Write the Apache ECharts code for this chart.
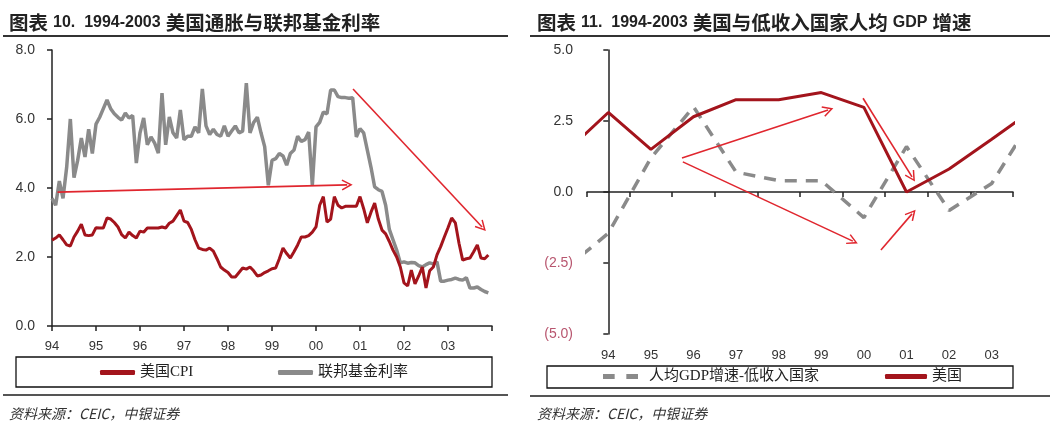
<!DOCTYPE html>
<html><head><meta charset="utf-8">
<script src="https://cdn.jsdelivr.net/npm/echarts@6/dist/echarts.min.js"></script>
<style>html,body{margin:0;padding:0;background:#fff}#c{width:1054px;height:424px}</style>
</head><body><div id="c"></div>
<script>
// ---------- data ----------
const monthTickLabels = ['94','95','96','97','98','99','00','01','02','03',''];
// US CPI yoy (%), monthly Jan 1994 .. Dec 2003
const cpi = [
 2.49,2.55,2.64,2.50,2.35,2.32,2.58,2.75,2.95,2.64,2.62,2.64,
 2.85,2.84,2.84,3.13,3.10,3.00,2.87,2.65,2.55,2.72,2.62,2.55,
 2.75,2.72,2.84,2.84,2.84,2.84,2.87,2.84,2.98,3.04,3.20,3.36,
 3.04,3.00,2.80,2.50,2.26,2.22,2.20,2.26,2.17,1.95,1.71,1.62,
 1.55,1.42,1.42,1.55,1.68,1.65,1.71,1.60,1.45,1.48,1.55,1.60,
 1.66,1.68,1.95,2.26,2.10,1.97,2.15,2.35,2.58,2.58,2.62,2.72,
 2.87,3.50,3.75,3.01,3.10,3.75,3.50,3.42,3.47,3.47,3.47,3.47,
 3.75,3.40,2.99,3.30,3.56,3.10,2.78,2.67,2.45,2.20,2.00,1.71,
 1.25,1.16,1.62,1.22,1.45,1.71,1.10,1.60,1.71,2.06,2.30,2.58,
 2.85,3.13,2.99,2.40,1.91,1.95,1.97,2.15,2.35,1.97,1.95,2.06
];
// Fed funds rate (%), monthly Jan 1994 .. Dec 2003
const fedFunds = [
 3.70,3.50,4.20,3.70,4.60,6.00,4.30,4.80,5.45,4.90,5.70,5.00,
 5.85,6.05,6.30,6.55,6.30,6.15,6.05,5.97,6.17,6.03,6.10,4.72,
 5.60,6.03,5.25,5.48,5.30,5.01,6.75,5.25,6.06,5.60,5.45,6.26,
 5.40,5.50,5.50,5.77,5.60,6.87,5.80,5.55,5.70,5.55,5.50,5.80,
 5.50,5.65,5.80,5.60,5.65,7.04,5.60,5.90,6.05,5.60,5.20,4.08,
 4.80,4.85,5.00,4.93,4.66,5.00,5.10,5.50,5.35,5.40,5.62,4.08,
 5.77,5.90,6.20,6.15,6.84,6.84,6.65,6.62,6.62,6.60,6.62,5.48,
 5.72,5.60,5.10,4.60,4.03,3.95,3.90,3.50,2.80,2.50,2.20,1.83,
 1.86,1.82,1.84,1.83,1.75,1.71,1.78,1.83,1.80,1.86,1.30,1.30,
 1.33,1.35,1.39,1.35,1.33,1.40,1.10,1.10,1.13,1.06,1.00,0.96
];
const yearLabels = ['94','95','96','97','98','99','00','01','02','03'];
const gdpYears = [1993,1994,1995,1996,1997,1998,1999,2000,2001,2002,2003,2004];
const lowIncomeGdp = [-2.7,-1.45,1.2,3.0,0.7,0.4,0.4,-0.9,1.6,-0.65,0.3,2.7];
const usGdp = [1.4,2.8,1.5,2.65,3.25,3.25,3.5,2.98,0.0,0.81,1.86,2.93];

// annotation arrows: [[x1,y1],[x2,y2]] in data units
const leftArrows = [[[1.5,3.88],[80.5,4.09]], [[82.1,6.87],[117.3,2.87]]];
const rightArrows = [[[1.73,1.2],[5.16,2.89]], [[1.75,1.06],[5.74,-1.73]], [[5.98,3.3],[7.13,0.53]], [[6.4,-2.04],[7.13,-0.77]]];

// ---------- styles ----------
const RED = '#a3141c', GRAY = '#8a8a8a', ARROW = '#e0262e';
const SANS = "'Liberation Sans', Arial, sans-serif";
const CJK = "'Noto Sans CJK SC', sans-serif";
const SERIF = "'Liberation Serif', 'Noto Sans CJK SC', serif";
const arrowHead = 'path://M0,0 L6,11 L4.6,11.8 L0,3.4 L-4.6,11.8 L-6,11 Z';

function arrowLines(list){
  return {
    silent: true, animation: false,
    symbol: ['none', arrowHead], symbolSize: [11, 11],
    lineStyle: {color: ARROW, width: 1.6, type: 'solid'},
    label: {show: false},
    data: list.map(a => [{coord: a[0]}, {coord: a[1]}])
  };
}

const titleRich = {
  c: {fontFamily: CJK, fontWeight: 'bold', fontSize: 19.5, color: '#222'},
  n: {fontFamily: SANS, fontWeight: 'bold', fontSize: 16, color: '#222'}
};
const srcStyle = {fontFamily: CJK, fontStyle: 'italic', fontWeight: 'normal', fontSize: 14, color: '#333'};

const chart = echarts.init(document.getElementById('c'), null, {renderer: 'canvas'});
chart.setOption({
  animation: false,
  backgroundColor: '#fff',
  title: [
    {text: '{c|图表} {n|10.  1994-2003} {c|美国通胀与联邦基金利率}', left: 4, top: 8, textStyle: {rich: titleRich}},
    {text: '{c|图表} {n|11.  1994-2003} {c|美国与低收入国家人均} {n|GDP} {c|增速}', left: 532, top: 8, textStyle: {rich: titleRich}},
    {text: '资料来源：CEIC，中银证券', left: 4, top: 402, textStyle: srcStyle},
    {text: '资料来源：CEIC，中银证券', left: 532, top: 402, textStyle: srcStyle}
  ],
  graphic: [
    {type: 'line', shape: {x1: 3, y1: 36, x2: 508, y2: 36}, style: {stroke: '#333', lineWidth: 2}},
    {type: 'line', shape: {x1: 530, y1: 36, x2: 1050, y2: 36}, style: {stroke: '#333', lineWidth: 2}},
    {type: 'line', shape: {x1: 3, y1: 395, x2: 508, y2: 395}, style: {stroke: '#555', lineWidth: 2}},
    {type: 'line', shape: {x1: 530, y1: 396, x2: 1050, y2: 396}, style: {stroke: '#555', lineWidth: 2}},
    {type: 'rect', shape: {x: 16, y: 357, width: 476, height: 30}, style: {fill: 'none', stroke: '#111', lineWidth: 1.3}},
    {type: 'rect', shape: {x: 547, y: 366, width: 466, height: 22}, style: {fill: 'none', stroke: '#111', lineWidth: 1.3}}
  ],
  legend: [
    {data: [{name: '美国CPI', icon: 'roundRect'}], left: 100, top: 365, padding: 0, itemWidth: 35, itemHeight: 5,
     textStyle: {fontFamily: SERIF, fontSize: 15, color: '#222'}},
    {data: [{name: '联邦基金利率', icon: 'roundRect'}], left: 278, top: 365, padding: 0, itemWidth: 35, itemHeight: 5,
     textStyle: {fontFamily: SERIF, fontSize: 15, color: '#222'}},
    {data: [{name: '人均GDP增速-低收入国家', icon: 'path://M0,0H12V5H0Z M24,0H36V5H24Z'}], left: 603, top: 369, padding: 0, itemWidth: 35, itemHeight: 5,
     textStyle: {fontFamily: SERIF, fontSize: 15, color: '#222', padding: [0,0,0,6]}},
    {data: [{name: '美国', icon: 'roundRect'}], left: 885, top: 369, padding: 0, itemWidth: 42, itemHeight: 5,
     textStyle: {fontFamily: SERIF, fontSize: 15, color: '#222'}}
  ],
  grid: [
    {left: 52, right: 562, top: 50, bottom: 98},
    {left: 587, right: 41, top: 50, bottom: 90}
  ],
  xAxis: [
    {type: 'value', gridIndex: 0, min: 0, max: 120, interval: 12,
     axisLine: {lineStyle: {color: '#222', width: 1.5}},
     axisTick: {show: true, length: 5, lineStyle: {color: '#222', width: 1.5}},
     axisLabel: {margin: 14, fontFamily: SANS, fontSize: 13, color: '#333', formatter: v => monthTickLabels[Math.round(v/12)]},
     splitLine: {show: false}},
    {type: 'value', gridIndex: 1, min: -0.5, max: 9.5, interval: 1,
     axisLine: {onZero: true, lineStyle: {color: '#222', width: 1.5}},
     axisTick: {show: true, length: 5, lineStyle: {color: '#222', width: 1.5}},
     axisLabel: {show: false}, splitLine: {show: false}},
    {type: 'category', gridIndex: 1, position: 'bottom', data: yearLabels, boundaryGap: true,
     axisLine: {show: false, onZero: false}, axisTick: {show: false},
     axisLabel: {margin: 15, fontFamily: SANS, fontSize: 13, color: '#333'}, splitLine: {show: false}}
  ],
  yAxis: [
    {type: 'value', gridIndex: 0, min: 0, max: 8, interval: 2,
     axisLine: {show: true, lineStyle: {color: '#222', width: 1.5}},
     axisTick: {show: true, length: 5, lineStyle: {color: '#222', width: 1.5}},
     axisLabel: {margin: 17, fontFamily: SANS, fontSize: 14, color: '#333', formatter: v => v.toFixed(1)},
     splitLine: {show: false}},
    {type: 'value', gridIndex: 1, min: -5, max: 5, interval: 2.5,
     axisLine: {show: true, lineStyle: {color: '#222', width: 1.5}},
     axisTick: {show: true, length: 5, lineStyle: {color: '#222', width: 1.5}},
     axisLabel: {margin: 14, formatter: v => v < 0 ? '{n|(' + (-v).toFixed(1) + ')}' : '{p|' + v.toFixed(1) + '}',
       rich: {n: {fontFamily: SANS, fontSize: 14, color: '#b8566f'}, p: {fontFamily: SANS, fontSize: 14, color: '#333'}}},
     splitLine: {show: false}}
  ],
  series: [
    {name: '联邦基金利率', type: 'line', xAxisIndex: 0, yAxisIndex: 0, showSymbol: false, symbol: 'none',
     data: fedFunds.map((v, i) => [i, v]), itemStyle: {color: GRAY}, lineStyle: {color: GRAY, width: 3.5}, z: 2,
     markLine: arrowLines(leftArrows)},
    {name: '美国CPI', type: 'line', xAxisIndex: 0, yAxisIndex: 0, showSymbol: false, symbol: 'none',
     data: cpi.map((v, i) => [i, v]), itemStyle: {color: RED}, lineStyle: {color: RED, width: 3}, z: 3},
    {name: '人均GDP增速-低收入国家', type: 'line', xAxisIndex: 1, yAxisIndex: 1, showSymbol: false, symbol: 'none', clip: true,
     data: lowIncomeGdp.map((v, i) => [gdpYears[i] - 1994, v]), itemStyle: {color: GRAY},
     lineStyle: {color: GRAY, width: 3.5, type: [12, 9]}, z: 2,
     markLine: arrowLines(rightArrows)},
    {name: '美国', type: 'line', xAxisIndex: 1, yAxisIndex: 1, showSymbol: false, symbol: 'none', clip: true,
     data: usGdp.map((v, i) => [gdpYears[i] - 1994, v]), itemStyle: {color: RED}, lineStyle: {color: RED, width: 3}, z: 3}
  ]
});
</script></body></html>
